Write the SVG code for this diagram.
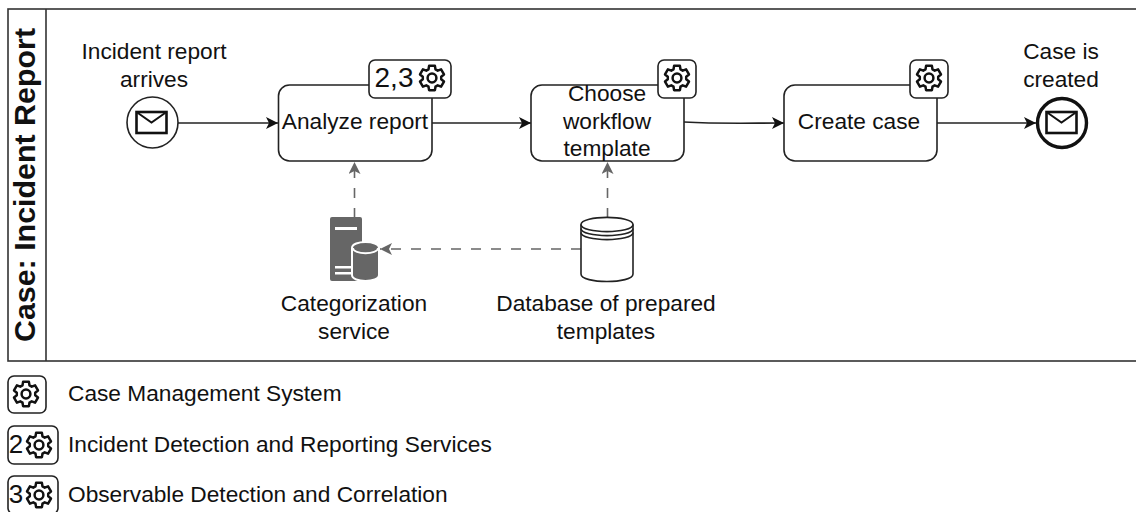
<svg xmlns="http://www.w3.org/2000/svg" width="1136" height="512" viewBox="0 0 1136 512">
<style>
text{font-family:"Liberation Sans",Arial,sans-serif;font-size:22.7px;fill:#111;text-anchor:middle}
.lg{text-anchor:start}
.box{fill:#fff;stroke:#222;stroke-width:1.6}
.flow{fill:none;stroke:#222;stroke-width:1.6}
.dash{fill:none;stroke:#666;stroke-width:1.6;stroke-dasharray:10 10}
</style>
<defs>
<marker id="ah" markerUnits="userSpaceOnUse" markerWidth="14" markerHeight="12" refX="12" refY="6" orient="auto"><path d="M0 0L12 6L0 12L3 6Z" fill="#111"/></marker>
<marker id="ag" markerUnits="userSpaceOnUse" markerWidth="14" markerHeight="12" refX="12" refY="6" orient="auto"><path d="M0 0L12 6L0 12L3 6Z" fill="#666"/></marker>
<g id="gear" fill="none" stroke="#111" stroke-width="2.5" stroke-linejoin="round">
<path d="M-2.92 -12.15L2.92 -12.15L3.48 -8.62L5.73 -7.33L9.07 -8.6L11.98 -3.55L9.21 -1.29L9.21 1.29L11.98 3.55L9.07 8.6L5.73 7.33L3.48 8.62L2.92 12.15L-2.92 12.15L-3.48 8.62L-5.73 7.33L-9.07 8.6L-11.98 3.55L-9.21 1.29L-9.21 -1.29L-11.98 -3.55L-9.07 -8.6L-5.73 -7.33L-3.48 -8.62Z"/>
<circle r="4.4"/>
</g>
<g id="env" fill="none" stroke="#111" stroke-width="2.6"><rect x="-15" y="-10.500" width="30" height="21"/><path d="M-15 -10.500L0 0L15 -10.500" stroke-width="2"/></g>
</defs>

<g id="pool">
<rect x="8" y="9" width="1140" height="352" fill="#fff" stroke="#333" stroke-width="1.6"/>
<path d="M46 9V361" stroke="#333" stroke-width="1.6"/>
<text transform="translate(35 185) rotate(-90)" style="font-size:30.4px;font-weight:700">Case: Incident Report</text>
</g>

<g id="connectors">
<path class="flow" d="M178 123H278" marker-end="url(#ah)"/>
<path class="flow" d="M432 123H531" marker-end="url(#ah)"/>
<path class="flow" d="M684 122C720 124 750 123 784 123" marker-end="url(#ah)"/>
<path class="flow" d="M937 123H1036" marker-end="url(#ah)"/>
<path class="dash" d="M354.500 218V162" marker-end="url(#ag)"/>
<path class="dash" d="M607.500 218V162" marker-end="url(#ag)"/>
<path class="dash" d="M581 249H380" marker-end="url(#ag)"/>
</g>

<g id="start-event">
<circle cx="152.500" cy="122.500" r="25.500" fill="#fff" stroke="#222" stroke-width="1.6"/>
<use href="#env" x="151.500" y="122.500"/>
<text x="154" y="59">Incident report</text>
<text x="154" y="87">arrives</text>
</g>

<g id="task-analyze">
<rect class="box" x="278.500" y="85" width="153.500" height="76" rx="11"/>
<text x="355" y="129">Analyze report</text>
<rect class="box" x="369" y="60" width="82" height="38" rx="6"/>
<text x="394" y="87" style="font-size:28px">2,3</text>
<use href="#gear" x="432" y="78"/>
</g>

<g id="task-choose">
<rect class="box" x="531" y="85" width="153" height="76" rx="11"/>
<text x="607" y="101">Choose</text>
<text x="607" y="129">workflow</text>
<text x="607" y="156">template</text>
<rect class="box" x="658" y="60" width="38" height="38" rx="6"/>
<use href="#gear" x="677" y="78"/>
</g>

<g id="task-create">
<rect class="box" x="784" y="85" width="153" height="76" rx="11"/>
<text x="859" y="129">Create case</text>
<rect class="box" x="910" y="60" width="38" height="38" rx="6"/>
<use href="#gear" x="929" y="78"/>
</g>

<g id="end-event">
<circle cx="1062" cy="123" r="24.500" fill="#fff" stroke="#111" stroke-width="3.4"/>
<use href="#env" x="1061.500" y="122.500"/>
<text x="1061" y="59">Case is</text>
<text x="1061" y="87">created</text>
</g>

<g id="categorization-service">
<rect x="330" y="217" width="32" height="64" rx="2" fill="#666"/>
<rect x="335" y="227" width="22" height="3" fill="#fff"/>
<rect x="335" y="266" width="17" height="2.500" fill="#fff"/>
<rect x="335" y="272" width="17" height="2.500" fill="#fff"/>
<path d="M352 248C352 240 379 240 379 248V275C379 283 352 283 352 275Z" fill="#666" stroke="#fff" stroke-width="2"/>
<path d="M353 248C353 255 378 255 378 248" fill="none" stroke="#fff" stroke-width="1.800"/>
<text x="354" y="311">Categorization</text>
<text x="354" y="339">service</text>
</g>

<g id="template-database">
<path d="M581 224.500C581 215 633 215 633 224.500V274C633 284 581 284 581 274Z" fill="#fff" stroke="#222" stroke-width="1.600"/>
<path d="M581 224.500C581 234 633 234 633 224.500M581 228.500C581 238 633 238 633 228.500M581 232.500C581 242 633 242 633 232.500" fill="none" stroke="#222" stroke-width="1.600"/>
<text x="606" y="311">Database of prepared</text>
<text x="606" y="339">templates</text>
</g>

<g id="legend-case">
<rect class="box" x="8" y="376" width="38" height="37" rx="6"/>
<use href="#gear" x="26" y="394"/>
<text class="lg" x="68" y="401">Case Management System</text>
</g>
<g id="legend-incident">
<rect class="box" x="8" y="426" width="50" height="38" rx="6"/>
<text x="16" y="453" style="font-size:26px">2</text>
<use href="#gear" x="39" y="445"/>
<text class="lg" x="68" y="452">Incident Detection and Reporting Services</text>
</g>
<g id="legend-observable">
<rect class="box" x="8" y="476" width="50" height="38" rx="6"/>
<text x="16" y="503" style="font-size:26px">3</text>
<use href="#gear" x="39" y="495"/>
<text class="lg" x="68" y="502">Observable Detection and Correlation</text>
</g>
</svg>
